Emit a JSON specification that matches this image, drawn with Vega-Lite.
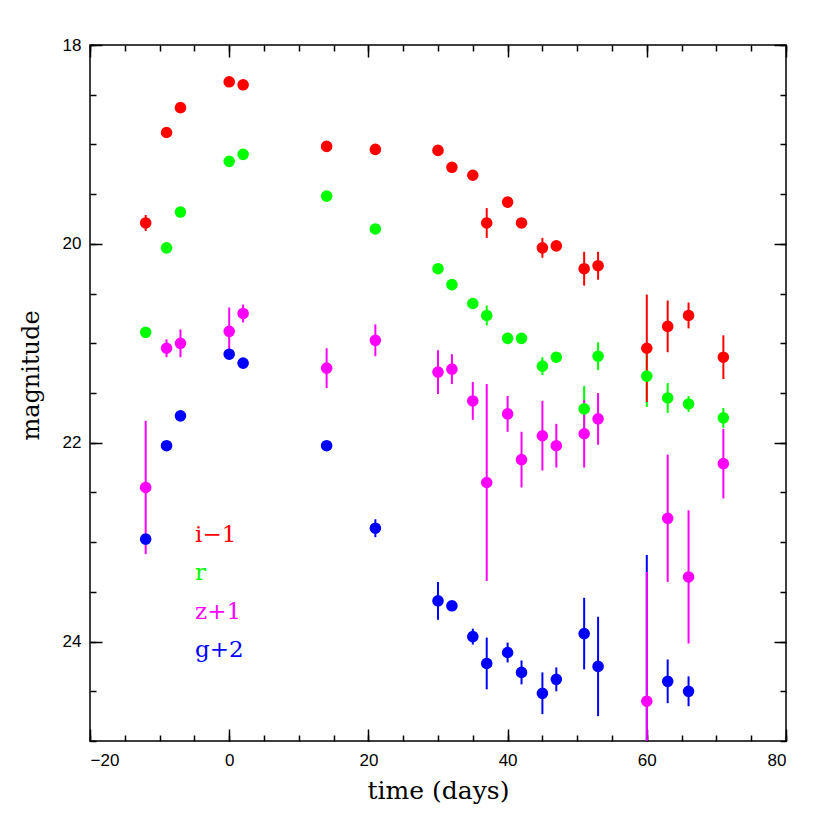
{
  "$schema": "https://vega.github.io/schema/vega-lite/v6.json",
  "width": 696,
  "height": 696,
  "autosize": {"type": "none"},
  "padding": {"left": 90, "top": 45, "right": 44, "bottom": 89},
  "background": "white",
  "config": {
    "view": {"stroke": "black", "strokeWidth": 1.5},
    "axis": {
      "domain": false, "grid": false,
      "tickColor": "black", "tickWidth": 1.5,
      "labelFont": "Liberation Sans", "labelFontSize": 17, "labelColor": "black",
      "titleFont": "DejaVu Serif", "titleFontSize": 24, "titleFontWeight": "normal", "titleColor": "black"
    }
  },
  "datasets": {
    "phot": [
      {"band": "g+2", "t": -12, "mag": 22.97, "lo": 22.92, "hi": 23.02},
      {"band": "g+2", "t": -9, "mag": 22.03},
      {"band": "g+2", "t": -7, "mag": 21.73},
      {"band": "g+2", "t": 0, "mag": 21.11},
      {"band": "g+2", "t": 2, "mag": 21.20},
      {"band": "g+2", "t": 14, "mag": 22.03},
      {"band": "g+2", "t": 21, "mag": 22.86, "lo": 22.77, "hi": 22.95},
      {"band": "g+2", "t": 30, "mag": 23.59, "lo": 23.40, "hi": 23.78},
      {"band": "g+2", "t": 32, "mag": 23.64},
      {"band": "g+2", "t": 35, "mag": 23.95, "lo": 23.87, "hi": 24.03},
      {"band": "g+2", "t": 37, "mag": 24.22, "lo": 23.96, "hi": 24.48},
      {"band": "g+2", "t": 40, "mag": 24.11, "lo": 24.01, "hi": 24.21},
      {"band": "g+2", "t": 42, "mag": 24.31, "lo": 24.19, "hi": 24.43},
      {"band": "g+2", "t": 45, "mag": 24.52, "lo": 24.31, "hi": 24.73},
      {"band": "g+2", "t": 47, "mag": 24.38, "lo": 24.26, "hi": 24.50},
      {"band": "g+2", "t": 51, "mag": 23.92, "lo": 23.56, "hi": 24.28},
      {"band": "g+2", "t": 53, "mag": 24.25, "lo": 23.75, "hi": 24.75},
      {"band": "g+2", "t": 60, "mag": 25.40, "lo": 23.13, "hi": 27.67},
      {"band": "g+2", "t": 63, "mag": 24.40, "lo": 24.18, "hi": 24.62},
      {"band": "g+2", "t": 66, "mag": 24.50, "lo": 24.35, "hi": 24.65},
      {"band": "r", "t": -12, "mag": 20.89},
      {"band": "r", "t": -9, "mag": 20.04},
      {"band": "r", "t": -7, "mag": 19.68},
      {"band": "r", "t": 0, "mag": 19.17},
      {"band": "r", "t": 2, "mag": 19.10},
      {"band": "r", "t": 14, "mag": 19.52},
      {"band": "r", "t": 21, "mag": 19.85},
      {"band": "r", "t": 30, "mag": 20.25},
      {"band": "r", "t": 32, "mag": 20.41},
      {"band": "r", "t": 35, "mag": 20.60},
      {"band": "r", "t": 37, "mag": 20.72, "lo": 20.62, "hi": 20.82},
      {"band": "r", "t": 40, "mag": 20.95},
      {"band": "r", "t": 42, "mag": 20.95},
      {"band": "r", "t": 45, "mag": 21.23, "lo": 21.14, "hi": 21.32},
      {"band": "r", "t": 47, "mag": 21.14},
      {"band": "r", "t": 51, "mag": 21.66, "lo": 21.43, "hi": 21.89},
      {"band": "r", "t": 53, "mag": 21.13, "lo": 20.99, "hi": 21.27},
      {"band": "r", "t": 60, "mag": 21.33, "lo": 21.02, "hi": 21.64},
      {"band": "r", "t": 63, "mag": 21.55, "lo": 21.40, "hi": 21.70},
      {"band": "r", "t": 66, "mag": 21.61, "lo": 21.53, "hi": 21.69},
      {"band": "r", "t": 71, "mag": 21.75, "lo": 21.65, "hi": 21.85},
      {"band": "i-1", "t": -12, "mag": 19.79, "lo": 19.71, "hi": 19.87},
      {"band": "i-1", "t": -9, "mag": 18.88},
      {"band": "i-1", "t": -7, "mag": 18.63},
      {"band": "i-1", "t": 0, "mag": 18.37},
      {"band": "i-1", "t": 2, "mag": 18.40},
      {"band": "i-1", "t": 14, "mag": 19.02},
      {"band": "i-1", "t": 21, "mag": 19.05},
      {"band": "i-1", "t": 30, "mag": 19.06},
      {"band": "i-1", "t": 32, "mag": 19.23},
      {"band": "i-1", "t": 35, "mag": 19.31},
      {"band": "i-1", "t": 37, "mag": 19.79, "lo": 19.64, "hi": 19.94},
      {"band": "i-1", "t": 40, "mag": 19.58},
      {"band": "i-1", "t": 42, "mag": 19.79},
      {"band": "i-1", "t": 45, "mag": 20.04, "lo": 19.94, "hi": 20.14},
      {"band": "i-1", "t": 47, "mag": 20.02},
      {"band": "i-1", "t": 51, "mag": 20.25, "lo": 20.08, "hi": 20.42},
      {"band": "i-1", "t": 53, "mag": 20.22, "lo": 20.08, "hi": 20.36},
      {"band": "i-1", "t": 60, "mag": 21.05, "lo": 20.51, "hi": 21.59},
      {"band": "i-1", "t": 63, "mag": 20.83, "lo": 20.57, "hi": 21.09},
      {"band": "i-1", "t": 66, "mag": 20.72, "lo": 20.59, "hi": 20.85},
      {"band": "i-1", "t": 71, "mag": 21.14, "lo": 20.92, "hi": 21.36},
      {"band": "z+1", "t": -12, "mag": 22.45, "lo": 21.78, "hi": 23.12},
      {"band": "z+1", "t": -9, "mag": 21.05, "lo": 20.96, "hi": 21.14},
      {"band": "z+1", "t": -7, "mag": 21.00, "lo": 20.86, "hi": 21.14},
      {"band": "z+1", "t": 0, "mag": 20.88, "lo": 20.64, "hi": 21.12},
      {"band": "z+1", "t": 2, "mag": 20.70, "lo": 20.61, "hi": 20.79},
      {"band": "z+1", "t": 14, "mag": 21.25, "lo": 21.05, "hi": 21.45},
      {"band": "z+1", "t": 21, "mag": 20.97, "lo": 20.81, "hi": 21.13},
      {"band": "z+1", "t": 30, "mag": 21.29, "lo": 21.07, "hi": 21.51},
      {"band": "z+1", "t": 32, "mag": 21.26, "lo": 21.11, "hi": 21.41},
      {"band": "z+1", "t": 35, "mag": 21.58, "lo": 21.39, "hi": 21.77},
      {"band": "z+1", "t": 37, "mag": 22.40, "lo": 21.41, "hi": 23.39},
      {"band": "z+1", "t": 40, "mag": 21.71, "lo": 21.53, "hi": 21.89},
      {"band": "z+1", "t": 42, "mag": 22.17, "lo": 21.89, "hi": 22.45},
      {"band": "z+1", "t": 45, "mag": 21.93, "lo": 21.58, "hi": 22.28},
      {"band": "z+1", "t": 47, "mag": 22.03, "lo": 21.81, "hi": 22.25},
      {"band": "z+1", "t": 51, "mag": 21.91, "lo": 21.57, "hi": 22.25},
      {"band": "z+1", "t": 53, "mag": 21.76, "lo": 21.50, "hi": 22.02},
      {"band": "z+1", "t": 60, "mag": 24.60, "lo": 23.30, "hi": 25.90},
      {"band": "z+1", "t": 63, "mag": 22.76, "lo": 22.12, "hi": 23.40},
      {"band": "z+1", "t": 66, "mag": 23.35, "lo": 22.68, "hi": 24.02},
      {"band": "z+1", "t": 71, "mag": 22.21, "lo": 21.86, "hi": 22.56}
    ],
    "labels": [
      {"band": "i-1", "text": "i\u22121", "t": -4.9, "mag": 22.93},
      {"band": "r", "text": "r", "t": -4.9, "mag": 23.31},
      {"band": "z+1", "text": "z+1", "t": -4.9, "mag": 23.70},
      {"band": "g+2", "text": "g+2", "t": -4.9, "mag": 24.08}
    ]
  },
  "layer": [
    {
      "data": {"name": "phot"},
      "mark": {"type": "rule", "strokeWidth": 2, "clip": true},
      "encoding": {
        "x": {"field": "t", "type": "quantitative",
              "scale": {"domain": [-20, 80], "nice": false, "zero": false},
              "axis": {"orient": "bottom", "values": [-20, 0, 20, 40, 60, 80], "tickSize": -12, "labelPadding": 23,
                       "title": "time (days)", "titleFontSize": 25, "titleY": 37, "titleBaseline": "top"}},
        "y": {"field": "lo", "type": "quantitative",
              "scale": {"domain": [18, 25], "nice": false, "zero": false, "reverse": true},
              "axis": {"orient": "left", "values": [18, 20, 22, 24], "tickSize": -12, "labelPadding": 21,
                       "title": "magnitude", "titleX": -47, "titleY": 330}},
        "y2": {"field": "hi"},
        "color": {"field": "band", "type": "nominal",
                  "scale": {"domain": ["g+2", "r", "i-1", "z+1"], "range": ["#0000ff", "#00ff00", "#ff0000", "#ff00ff"]},
                  "legend": null}
      }
    },
    {
      "data": {"name": "phot"},
      "mark": {"type": "circle", "size": 135, "opacity": 1, "clip": true},
      "encoding": {
        "x": {"field": "t", "type": "quantitative",
              "axis": {"orient": "top", "values": [-20, 0, 20, 40, 60, 80], "tickSize": -12, "labels": false, "title": null}},
        "y": {"field": "mag", "type": "quantitative",
              "axis": {"orient": "right", "values": [18, 20, 22, 24], "tickSize": -12, "labels": false, "title": null}},
        "color": {"field": "band", "type": "nominal", "legend": null}
      }
    },
    {
      "data": {"name": "labels"},
      "mark": {"type": "text", "align": "left", "baseline": "middle", "font": "DejaVu Serif", "fontSize": 23},
      "encoding": {
        "x": {"field": "t", "type": "quantitative",
              "axis": {"orient": "bottom", "values": [-20, -15, -10, -5, 0, 5, 10, 15, 20, 25, 30, 35, 40, 45, 50, 55, 60, 65, 70, 75, 80], "tickSize": -6, "labels": false, "title": null}},
        "y": {"field": "mag", "type": "quantitative",
              "axis": {"orient": "left", "values": [18, 18.5, 19, 19.5, 20, 20.5, 21, 21.5, 22, 22.5, 23, 23.5, 24, 24.5, 25], "tickSize": -6, "labels": false, "title": null}},
        "text": {"field": "text"},
        "color": {"field": "band", "type": "nominal", "legend": null}
      }
    },
    {
      "data": {"name": "labels"},
      "mark": {"type": "point", "opacity": 0},
      "encoding": {
        "x": {"field": "t", "type": "quantitative",
              "axis": {"orient": "top", "values": [-20, -15, -10, -5, 0, 5, 10, 15, 20, 25, 30, 35, 40, 45, 50, 55, 60, 65, 70, 75, 80], "tickSize": -6, "labels": false, "title": null}},
        "y": {"field": "mag", "type": "quantitative",
              "axis": {"orient": "right", "values": [18, 18.5, 19, 19.5, 20, 20.5, 21, 21.5, 22, 22.5, 23, 23.5, 24, 24.5, 25], "tickSize": -6, "labels": false, "title": null}}
      }
    }
  ],
  "resolve": {"axis": {"x": "independent", "y": "independent"}}
}
